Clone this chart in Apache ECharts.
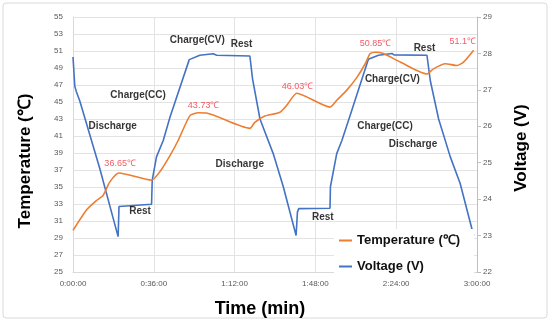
<!DOCTYPE html>
<html>
<head>
<meta charset="utf-8">
<script src="https://cdn.jsdelivr.net/npm/echarts@6/dist/echarts.min.js"></script>
<style>
html, body { margin: 0; padding: 0; background: #fff; }
#chart { width: 550px; height: 321px; }
</style>
</head>
<body>
<div id="chart"></div>
<script>
// time in minutes, temperature in degC
var tempData = [
	[0, 29.9], [6.0, 32.3], [10.4, 33.4], [13.4, 34.0], [16.4, 35.6], [20.5, 36.65],
	[35.0, 35.8], [38.7, 36.8], [43.2, 38.7], [46.9, 40.5], [52.1, 43.4], [55.8, 43.73],
	[59.5, 43.7], [78.8, 41.9], [81.0, 42.6], [85.0, 43.3], [92.2, 43.8], [95.2, 44.6],
	[99.7, 46.03], [114.5, 44.4], [117.5, 45.2], [122.0, 46.4], [126.5, 47.9], [130.2, 49.5],
	[132.4, 50.7], [134.6, 50.85], [138.3, 50.7], [145.8, 49.7], [157.7, 48.3], [160.6, 48.9],
	[165.9, 49.5], [171.1, 49.3], [174.0, 49.7], [178.5, 51.1]
];
// time in minutes, voltage in V
var voltData = [
	[0, 27.9], [0.8, 27.1], [1.5, 26.95], [3.0, 26.7], [11.9, 24.85], [20.1, 22.97],
	[20.5, 23.8], [21.2, 23.85], [35.0, 23.86], [35.3, 24.52], [37.2, 25.16], [40.2, 25.61],
	[43.2, 26.25], [51.8, 27.83], [56.5, 27.95], [62.5, 27.99], [64.0, 27.95], [78.8, 27.93],
	[80.0, 27.3], [83.3, 26.2], [89.2, 25.25], [93.7, 24.34], [99.4, 23.0], [100.0, 23.65],
	[100.6, 23.74], [114.5, 23.75], [114.7, 24.34], [117.5, 25.25], [119.8, 25.61], [123.5, 26.3],
	[131.6, 27.84], [136.1, 27.95], [142.1, 28.0], [143.0, 27.96], [157.7, 27.95], [159.2, 27.25],
	[162.9, 26.2], [168.1, 25.16], [172.5, 24.43], [178.5, 23.0]
];
// phase notes [time, temperature-axis value, text]
var phaseNotes = [
	[55.4, 52.3, 'Charge(CV)'], [75.1, 51.75, 'Rest'], [29.0, 45.8, 'Charge(CC)'],
	[17.7, 42.1, 'Discharge'], [29.9, 32.1, 'Rest'], [74.3, 37.7, 'Discharge'],
	[111.3, 31.5, 'Rest'], [156.6, 51.35, 'Rest'], [142.3, 47.7, 'Charge(CV)'],
	[139.0, 42.1, 'Charge(CC)'], [151.5, 40.0, 'Discharge']
];
var peakNotes = [
	[21.0, 37.8, '36.65℃'], [58.2, 44.6, '43.73℃'], [100.0, 46.85, '46.03℃'],
	[134.8, 51.9, '50.85℃'], [173.7, 52.1, '51.1℃']
];

var chart = echarts.init(document.getElementById('chart'));

function timeLabel(v) {
	var h = Math.floor(v / 60), m = v % 60;
	return h + ':' + (m < 10 ? '0' : '') + m + ':00';
}

var tickFont = { color: '#595959', fontSize: 8, fontFamily: 'Liberation Sans Narrow, Liberation Sans' };

var option = {
	animation: false,
	grid: { left: 73, right: 73, top: 17, bottom: 49 },
	legend: {
		data: ['Temperature (℃)', 'Voltage (V)'],
		orient: 'vertical',
		left: 334, top: 229,
		backgroundColor: '#fff',
		padding: [4, 14, 2, 5],
		icon: 'rect', itemWidth: 13, itemHeight: 2, itemGap: 11,
		textStyle: { fontSize: 13, fontWeight: 'bold', color: '#111', lineHeight: 15 }
	},
	xAxis: {
		type: 'value', min: 0, max: 180, interval: 36,
		axisLine: { lineStyle: { color: '#d9d9d9' } },
		axisTick: { show: false },
		axisLabel: Object.assign({ formatter: timeLabel, margin: 8 }, tickFont),
		splitLine: { lineStyle: { color: '#e3e3e3' } }
	},
	yAxis: [{
		type: 'value', min: 25, max: 55, interval: 2,
		axisLine: { show: true, lineStyle: { color: '#d9d9d9' } },
		axisTick: { show: false },
		axisLabel: Object.assign({ margin: 10 }, tickFont),
		splitLine: { lineStyle: { color: '#e3e3e3' } }
	}, {
		type: 'value', min: 22, max: 29, interval: 1,
		position: 'right',
		axisLine: { show: true, lineStyle: { color: '#bfbfbf' } },
		axisTick: { show: true, length: 4, lineStyle: { color: '#bfbfbf' } },
		axisLabel: Object.assign({ margin: 6 }, tickFont),
		splitLine: { show: false }
	}],
	graphic: [
		{ type: 'rect', shape: { x: 3, y: 3, width: 544, height: 315, r: 3 }, style: { fill: 'none', stroke: '#d9d9d9' }, z: -1 },
		{ type: 'text', x: 25, y: 161, rotation: Math.PI / 2,
			style: { text: 'Temperature (℃)', fontSize: 17, fontWeight: 'bold', fill: '#000', align: 'center', verticalAlign: 'middle' } },
		{ type: 'text', x: 521, y: 148, rotation: Math.PI / 2,
			style: { text: 'Voltage (V)', fontSize: 17, fontWeight: 'bold', fill: '#000', align: 'center', verticalAlign: 'middle' } },
		{ type: 'text', x: 260, y: 309,
			style: { text: 'Time (min)', fontSize: 18, fontWeight: 'bold', fill: '#000', align: 'center', verticalAlign: 'middle' } }
	],
	series: [{
		name: 'Temperature (℃)', type: 'line', yAxisIndex: 0,
		data: tempData, showSymbol: false, smooth: 0.2,
		lineStyle: { color: '#ED7D31', width: 1.6 }, itemStyle: { color: '#ED7D31' }, z: 3
	}, {
		name: 'Voltage (V)', type: 'line', yAxisIndex: 1,
		data: voltData, showSymbol: false,
		lineStyle: { color: '#4472C4', width: 1.6 }, itemStyle: { color: '#4472C4' }, z: 2
	}, {
		name: 'phase', type: 'scatter', yAxisIndex: 0, symbolSize: 0, z: 5,
		data: phaseNotes,
		label: { show: true, position: 'inside', formatter: function (p) { return p.data[2]; },
			fontSize: 10, fontWeight: 'bold', color: '#000' }
	}, {
		name: 'peak', type: 'scatter', yAxisIndex: 0, symbolSize: 0, z: 5,
		data: peakNotes,
		label: { show: true, position: 'inside', formatter: function (p) { return p.data[2]; },
			fontSize: 9, color: '#f0303c', fontFamily: 'Liberation Sans Narrow, Liberation Sans' }
	}]
};
chart.setOption(option);
</script>
</body>
</html>
